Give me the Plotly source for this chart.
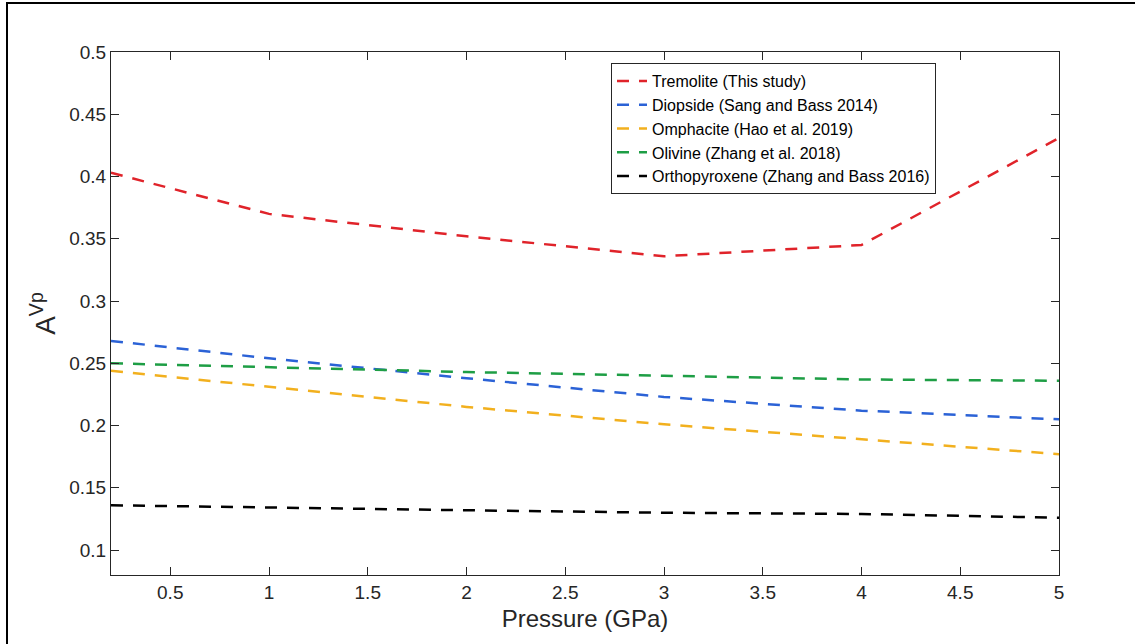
import plotly.graph_objects as go

pressure = [0.2, 1, 2, 3, 4, 5]
tremolite = [0.403, 0.370, 0.352, 0.336, 0.345, 0.431]
diopside = [0.268, 0.254, 0.238, 0.223, 0.212, 0.205]
omphacite = [0.244, 0.231, 0.215, 0.201, 0.189, 0.177]
olivine = [0.250, 0.247, 0.243, 0.240, 0.237, 0.236]
orthopyroxene = [0.136, 0.134, 0.132, 0.130, 0.129, 0.126]

names = ["Tremolite (This study)", "Diopside (Sang and Bass 2014)",
         "Omphacite (Hao et al. 2019)", "Olivine (Zhang et al. 2018)",
         "Orthopyroxene (Zhang and Bass 2016)"]
series = [tremolite, diopside, omphacite, olivine, orthopyroxene]
colors = ["#E0232A", "#2B62D6", "#F2B01E", "#1E9E45", "#000000"]

x_ticks = [0.5, 1, 1.5, 2, 2.5, 3, 3.5, 4, 4.5, 5]
y_ticks = [0.1, 0.15, 0.2, 0.25, 0.3, 0.35, 0.4, 0.45, 0.5]

fig = go.Figure()
for n, s, c in zip(names, series, colors):
    fig.add_trace(go.Scatter(x=pressure, y=s, mode="lines", name=n,
                             line=dict(color=c, width=2.5, dash="12px,10px")))

W, H = 1135, 644
L, R, T, B = 111, 76, 52, 69
pw, ph = W - L - R, H - T - B

FONT = "Liberation Sans, Arial, Helvetica, sans-serif"
axis_common = dict(showline=True, linecolor="#262626", linewidth=1, mirror="ticks",
                   ticks="inside", ticklen=8, tickcolor="#262626", showgrid=False,
                   zeroline=False, tickfont=dict(family=FONT, size=19, color="#262626"))

fig.update_layout(
    width=W, height=H,
    margin=dict(l=L, r=R, t=T, b=B),
    paper_bgcolor="white", plot_bgcolor="white",
    font=dict(family=FONT, color="#262626"),
    xaxis=dict(range=[0.2, 5], tickvals=x_ticks, ticktext=[f"{v:g}" for v in x_ticks],
               title=dict(text="Pressure (GPa)", font=dict(size=24), standoff=8), **axis_common),
    yaxis=dict(range=[0.08, 0.5], tickvals=y_ticks, ticktext=[f"{v:g}" for v in y_ticks],
               title=dict(text="A<sup>Vp</sup>", font=dict(size=28), standoff=5), **axis_common),
    legend=dict(x=(611 - L) / pw, y=(575 - 63) / ph, xanchor="left", yanchor="top",
                bgcolor="white", bordercolor="#262626", borderwidth=1,
                font=dict(size=16, color="#000000"), tracegroupgap=0, itemwidth=30),
    showlegend=True,
)

fig.add_shape(type="rect", xref="paper", yref="paper",
              x0=(7 - L) / pw, x1=(W + 20 - L) / pw,
              y0=(575 - (H + 20)) / ph, y1=(575 - 3) / ph,
              line=dict(color="black", width=2), fillcolor="rgba(0,0,0,0)", layer="below")

fig.write_html("out.html", config={"displayModeBar": False},
               post_script="document.body.style.margin='0';document.body.style.overflow='hidden';")
